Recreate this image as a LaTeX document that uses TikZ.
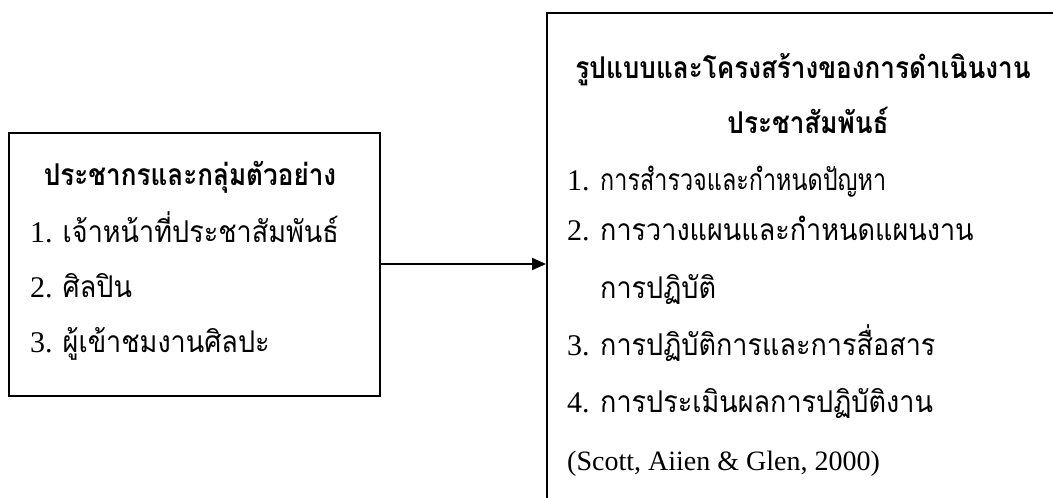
\documentclass[tikz,border=0pt]{standalone}
\usepackage{fontspec}
\setmainfont{Liberation Serif}
\newfontfamily\thai[Script=Thai, FakeStretch=0.9, BoldFeatures={FakeStretch=0.87}]{Loma}
\newfontfamily\thainarrow[Script=Thai, FakeStretch=0.78]{Loma}
\usetikzlibrary{arrows.meta}
\tikzset{
  frame/.style={draw=black, line width=2pt, inner sep=0pt},
  txt/.style={inner sep=0pt, anchor=base west, font=\fontsize{30}{30}\selectfont},
  lat/.style={inner sep=0pt, anchor=base west, font=\fontsize{28}{28}\selectfont},
  ttl/.style={inner sep=0pt, anchor=base, font=\fontsize{30}{30}\selectfont\bfseries},
  conn/.style={line width=2pt, -{Triangle[length=14pt,width=12pt]}}
}
\begin{document}
\begin{tikzpicture}[x=1pt,y=-1pt]
\useasboundingbox (0,0) rectangle (1053,498);
\clip (0,0) rectangle (1053,498);
\fill[white] (0,0) rectangle (1053,498);
% boxes
\node[frame, minimum width=371pt, minimum height=263pt] (lbox) at (194.5,264) {};
\node[frame, minimum width=540pt, minimum height=520pt] (rbox) at (817,273) {};
% left texts
\node[ttl] (lt) at (190,185) {\thai ประชากรและกลุ่มตัวอย่าง};
\node[txt] (l1) at (30,242) {1. {\thai เจ้าหน้าที่ประชาสัมพันธ์}};
\node[txt] (l2) at (30,297) {2. {\thai ศิลปิน}};
\node[txt] (l3) at (30,352) {3. {\thai ผู้เข้าชมงานศิลปะ}};
% right texts
\node[ttl] (rt1) at (803,78) {\thai รูปแบบและโครงสร้างของการดำเนินงาน};
\node[ttl] (rt2) at (808,133) {\thai ประชาสัมพันธ์};
\node[txt] (n1) at (567,190) {1.};
\node[txt] (r1) at (600,190) {\thainarrow การสำรวจและกำหนดปัญหา};
\node[txt] (n2) at (567,240) {2.};
\node[txt] (r2) at (600,240) {\thai การวางแผนและกำหนดแผนงาน};
\node[txt] (r2b) at (600,298) {\thai การปฏิบัติ};
\node[txt] (n3) at (567,355) {3.};
\node[txt] (r3) at (600,355) {\thai การปฏิบัติการและการสื่อสาร};
\node[txt] (n4) at (567,412) {4.};
\node[txt] (r4) at (600,412) {\thai การประเมินผลการปฏิบัติงาน};
\node[lat] (ref) at (567,470) {(Scott, Aiien \& Glen, 2000)};
% connector
\draw[conn] (lbox.east) -- (rbox.west |- lbox.east);
\end{tikzpicture}
\end{document}
